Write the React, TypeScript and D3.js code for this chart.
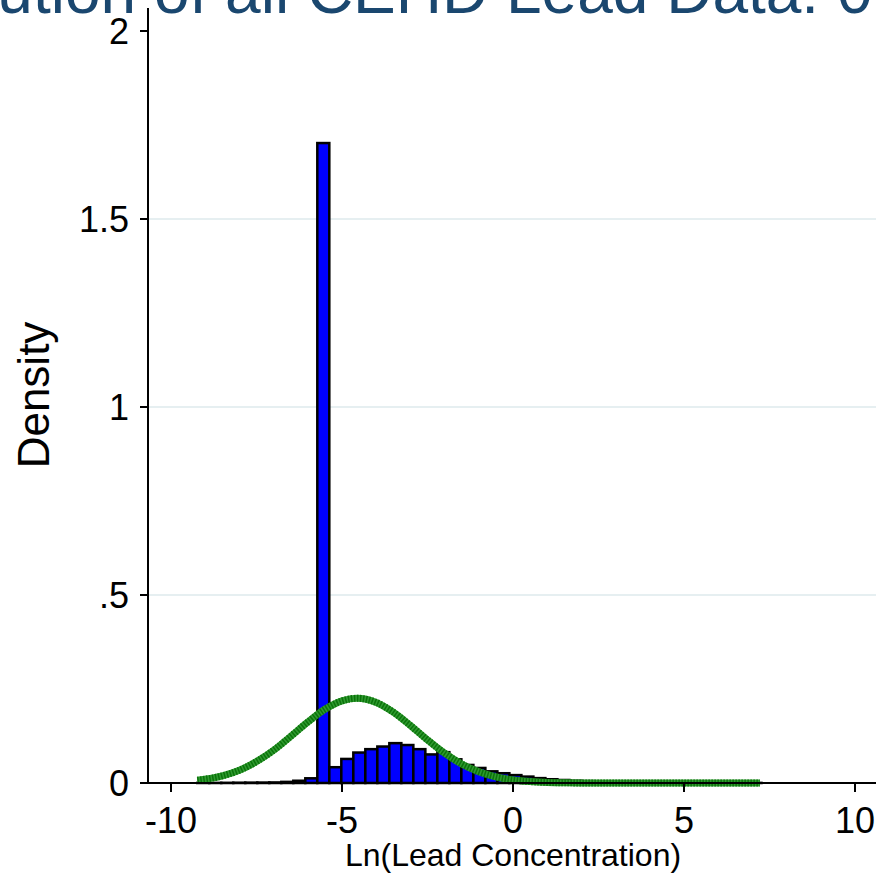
import React, { useEffect, useRef } from 'react';
import * as d3 from 'd3';

// Histogram bins: left edge of first bin and bin width
const binStart = -9.232;
const binWidth = 0.351;
const binDensity = [
  0.0003, 0.0003, 0.0005, 0.0008, 0.001, 0.0012, 0.0015, 0.003, 0.006, 0.0125,
  1.702, 0.042, 0.064, 0.081, 0.09, 0.097, 0.106, 0.101, 0.09, 0.076,
  0.082, 0.063, 0.048, 0.04, 0.031, 0.026, 0.021, 0.017, 0.013, 0.01,
  0.008, 0.006, 0.005, 0.004, 0.003, 0.0025, 0.002, 0.0018, 0.0015, 0.0012,
  0.001, 0.0008, 0.0006, 0.0005, 0.0004, 0.0003, 0.0003,
];

// Normal density overlay
const curveX = [
  -9.23, -8.5, -8, -7.5, -7, -6.5, -6, -5.5, -5, -4.56, -4, -3.5, -3, -2.5, -2,
  -1.5, -1, -0.5, 0, 0.5, 1, 1.5, 2, 3, 4, 5, 6, 7.22,
];
const curveY = [
  0.0072, 0.019, 0.034, 0.057, 0.087, 0.124, 0.162, 0.196, 0.2185, 0.2254, 0.2144,
  0.1884, 0.1529, 0.1145, 0.0792, 0.0506, 0.0298, 0.0163, 0.0082, 0.0038, 0.0016,
  0.0006, 0.0002, 0, 0, 0, 0, 0,
];

const xTicks = [-10, -5, 0, 5, 10];
const yTicks = [0, 0.5, 1, 1.5, 2];
const yTickLabels = ['0', '.5', '1', '1.5', '2'];
const gridValues = [0.5, 1, 1.5];

const titleText = 'Distribution of all CEHD Lead Data: 0 Values Included';

const App = () => {
  const chartRef = useRef<HTMLDivElement>(null);

  useEffect(() => {
    const W = 876;
    const H = 873;
    const font = "'Liberation Sans', Arial, Helvetica, sans-serif";
    const plotLeft = 148;
    const plotRight = 876;
    const plotTop = 8;

    const x = d3.scaleLinear().domain([-10, 10]).range([171, 855]);
    const y = d3.scaleLinear().domain([0, 2]).range([783, 31]);

    d3.select(chartRef.current).select('svg').remove();

    const svg = d3
      .select(chartRef.current)
      .append('svg')
      .attr('width', W)
      .attr('height', H)
      .style('position', 'absolute')
      .style('left', '0px')
      .style('top', '0px')
      .style('background', '#ffffff')
      .style('font-family', font);

    // grid lines
    svg
      .append('g')
      .selectAll('line')
      .data(gridValues)
      .enter()
      .append('line')
      .attr('x1', plotLeft)
      .attr('x2', plotRight)
      .attr('y1', d => y(d))
      .attr('y2', d => y(d))
      .attr('stroke', '#e6eff1')
      .attr('stroke-width', 2);

    // bars
    svg
      .append('g')
      .selectAll('rect')
      .data(binDensity)
      .enter()
      .append('rect')
      .attr('x', (d, i) => x(binStart + i * binWidth))
      .attr('width', (d, i) => x(binStart + (i + 1) * binWidth) - x(binStart + i * binWidth))
      .attr('y', d => y(d))
      .attr('height', d => y(0) - y(d))
      .attr('fill', '#0000ff')
      .attr('stroke', '#000000')
      .attr('stroke-width', 2.5);

    // normal curve
    const pts: [number, number][] = curveX.map((v, i) => [v, curveY[i]]);
    const line = d3
      .line<[number, number]>()
      .x(d => x(d[0]))
      .y(d => y(d[1]))
      .curve(d3.curveMonotoneX);

    svg
      .append('path')
      .datum(pts)
      .attr('fill', 'none')
      .attr('stroke', '#2f9a2f')
      .attr('stroke-width', 7)
      .attr('d', line);
    svg
      .append('path')
      .datum(pts)
      .attr('fill', 'none')
      .attr('stroke', '#0b730b')
      .attr('stroke-width', 7)
      .attr('stroke-dasharray', '1.5,1.5')
      .attr('d', line);

    // axes lines
    svg
      .append('line')
      .attr('x1', plotLeft)
      .attr('x2', plotLeft)
      .attr('y1', plotTop)
      .attr('y2', y(0))
      .attr('stroke', '#000')
      .attr('stroke-width', 2);
    svg
      .append('line')
      .attr('x1', plotLeft)
      .attr('x2', plotRight)
      .attr('y1', y(0))
      .attr('y2', y(0))
      .attr('stroke', '#000')
      .attr('stroke-width', 2);

    // y ticks
    const yg = svg.append('g');
    yg.selectAll('line')
      .data(yTicks)
      .enter()
      .append('line')
      .attr('x1', plotLeft - 8)
      .attr('x2', plotLeft)
      .attr('y1', d => y(d))
      .attr('y2', d => y(d))
      .attr('stroke', '#000')
      .attr('stroke-width', 2);
    yg.selectAll('text')
      .data(yTicks)
      .enter()
      .append('text')
      .attr('x', 129)
      .attr('y', d => y(d))
      .attr('dy', '0.36em')
      .attr('text-anchor', 'end')
      .style('font-size', '36px')
      .text((d, i) => yTickLabels[i]);

    // x ticks
    const xg = svg.append('g');
    xg.selectAll('line')
      .data(xTicks)
      .enter()
      .append('line')
      .attr('x1', d => x(d))
      .attr('x2', d => x(d))
      .attr('y1', y(0))
      .attr('y2', y(0) + 9)
      .attr('stroke', '#000')
      .attr('stroke-width', 2);
    xg.selectAll('text')
      .data(xTicks)
      .enter()
      .append('text')
      .attr('x', d => x(d))
      .attr('y', 833)
      .attr('text-anchor', 'middle')
      .style('font-size', '36px')
      .text(d => String(d));

    // axis titles
    svg
      .append('text')
      .attr('x', 513)
      .attr('y', 866)
      .attr('text-anchor', 'middle')
      .style('font-size', '32px')
      .text('Ln(Lead Concentration)');

    svg
      .append('text')
      .attr('transform', 'rotate(-90)')
      .attr('x', -395)
      .attr('y', 49)
      .attr('text-anchor', 'middle')
      .style('font-size', '44px')
      .text('Density');

    // title (cut off at the top of the picture)
    svg
      .append('text')
      .attr('x', -184)
      .attr('y', 13)
      .style('font-size', '64px')
      .attr('fill', '#1a476f')
      .text(titleText);
  }, []);

  return <div ref={chartRef} style={{ width: 876, height: 873 }}></div>;
};

export default App;
